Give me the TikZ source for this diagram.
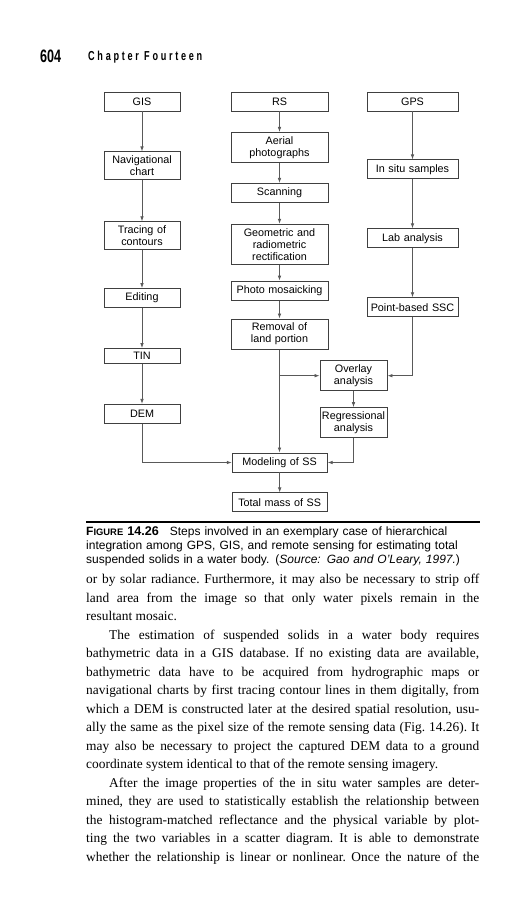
\documentclass[tikz,border=0pt]{standalone}
\usepackage{graphicx}
\usepackage{fontspec}
\setmainfont{Liberation Serif}
\setsansfont{Liberation Sans}
\newfontfamily\headfont{Liberation Sans}
\newfontfamily\chapfont[LetterSpace=30]{Liberation Sans}
\usetikzlibrary{positioning,arrows.meta}

\begin{document}
\begin{tikzpicture}
[x=1pt,y=-1pt,
 box/.style={draw=black!75,line width=0.9pt,align=center,inner xsep=0pt,
   inner ysep=4pt,minimum height=19pt,
   font=\sffamily\fontsize{10.8}{12}\selectfont},
 lbox/.style={box,text width=76pt}, cbox/.style={box,text width=97pt},
 rbox/.style={box,text width=91pt}, mbox/.style={box,text width=67pt},
 bbox/.style={box,text width=95pt},
 flow/.style={draw=black!65,line width=0.8pt,-{Latex[length=5pt,width=3.6pt]}}]
\useasboundingbox[fill=white] (0,0) rectangle (529,900);
% page head
\node[anchor=base west,inner sep=0pt,font=\headfont\bfseries\fontsize{18}{18}\selectfont]
  (pnum) at (40,62) {\scalebox{0.7}[1]{604}};
\node[anchor=base west,inner sep=0pt,font=\chapfont\bfseries\fontsize{13}{13}\selectfont]
  (chap) at (88,60) {\scalebox{0.7}[1]{Chapter Fourteen}};
% the three columns
\node[lbox] (gis) at (142,101.5) {GIS};
\node[cbox] (rs) at (279.5,101.5) {RS};
\node[rbox] (gps) at (412.5,101.5) {GPS};
\node[lbox,below=40pt of gis] (nav) {Navigational\\chart};
\node[lbox,below=41pt of nav] (trace) {Tracing of\\contours};
\node[lbox,below=38pt of trace] (edit) {Editing};
\node[lbox,below=40pt of edit,minimum height=15pt,inner ysep=2pt] (tin) {TIN};
\node[lbox,below=40pt of tin] (dem) {DEM};
\node[cbox,below=20.5pt of rs] (aerial) {Aerial\\photographs};
\node[cbox,below=20pt of aerial] (scan) {Scanning};
\node[cbox,below=21pt of scan] (geo) {Geometric and\\radiometric\\rectification};
\node[cbox,below=16pt of geo] (mosaic) {Photo mosaicking};
\node[cbox,below=18pt of mosaic] (removal) {Removal of\\land portion};
\node[rbox,below=48pt of gps] (insitu) {In situ samples};
\node[rbox,below=49pt of insitu] (lab) {Lab analysis};
\node[rbox,below=49pt of lab] (ssc) {Point-based SSC};
\node[mbox] (overlay) at (353.5,375.7) {Overlay\\analysis};
\node[mbox,below=16pt of overlay] (regress) {Regressional\\analysis};
\node[bbox] (model) at (279.7,462.5) {Modeling of SS};
\node[bbox,below=20pt of model] (total) {Total mass of SS};
% connectors
\draw[flow] (gis) -- (nav); \draw[flow] (nav) -- (trace);
\draw[flow] (trace) -- (edit); \draw[flow] (edit) -- (tin);
\draw[flow] (tin) -- (dem); \draw[flow] (dem) |- (model);
\draw[flow] (rs) -- (aerial); \draw[flow] (aerial) -- (scan);
\draw[flow] (scan) -- (geo); \draw[flow] (geo) -- (mosaic);
\draw[flow] (mosaic) -- (removal);
\draw[flow] (removal.south) -- (removal.south |- model.north);
\coordinate (split) at (removal.south |- overlay.west);
\draw[flow] (split) -- (overlay);
\draw[flow] (gps) -- (insitu); \draw[flow] (insitu) -- (lab);
\draw[flow] (lab) -- (ssc); \draw[flow] (ssc) |- (overlay);
\draw[flow] (overlay) -- (regress); \draw[flow] (regress) |- (model);
\draw[flow] (model) -- (total);
% caption
\draw[line width=1.2pt] (86,522) -- (480,522);
\node[anchor=north west,inner sep=0pt,text width=410pt,align=left,
  font=\sffamily\fontsize{12}{14}\selectfont] (cap) at (86,526)
  {{\bfseries F{\fontsize{9.4}{10}\selectfont IGURE} {\fontsize{12.6}{12}\selectfont 14.26}}\hspace{11pt}Steps involved in an exemplary case of hierarchical\\
   integration among GPS, GIS, and remote sensing for estimating total\\
   suspended solids in a water body. (\textit{Source: Gao and O'Leary, 1997.})};
% running text
\node[anchor=north west,inner sep=0pt,text width=393pt,align=justify,
  font=\fontsize{13.4}{18.5}\selectfont] (body) at (86,574)
  {\tolerance=10000\hyphenpenalty=10000\parindent=0pt\frenchspacing
   or by solar radiance. Furthermore, it may also be necessary to strip off\linebreak
   land area from the image so that only water pixels remain in the\linebreak
   resultant mosaic.\par
   \hspace*{23pt}The estimation of suspended solids in a water body requires\linebreak
   bathymetric data in a GIS database. If no existing data are available,\linebreak
   bathymetric data have to be acquired from hydrographic maps or\linebreak
   navigational charts by first tracing contour lines in them digitally, from\linebreak
   which a DEM is constructed later at the desired spatial resolution, usu-\linebreak
   ally the same as the pixel size of the remote sensing data (Fig.~14.26). It\linebreak
   may also be necessary to project the captured DEM data to a ground\linebreak
   coordinate system identical to that of the remote sensing imagery.\par
   \hspace*{23pt}After the image properties of the in situ water samples are deter-\linebreak
   mined, they are used to statistically establish the relationship between\linebreak
   the histogram-matched reflectance and the physical variable by plot-\linebreak
   ting the two variables in a scatter diagram. It is able to demonstrate\linebreak
   whether the relationship is linear or nonlinear. Once the nature of the\parfillskip=0pt\par};
\end{tikzpicture}
\end{document}
